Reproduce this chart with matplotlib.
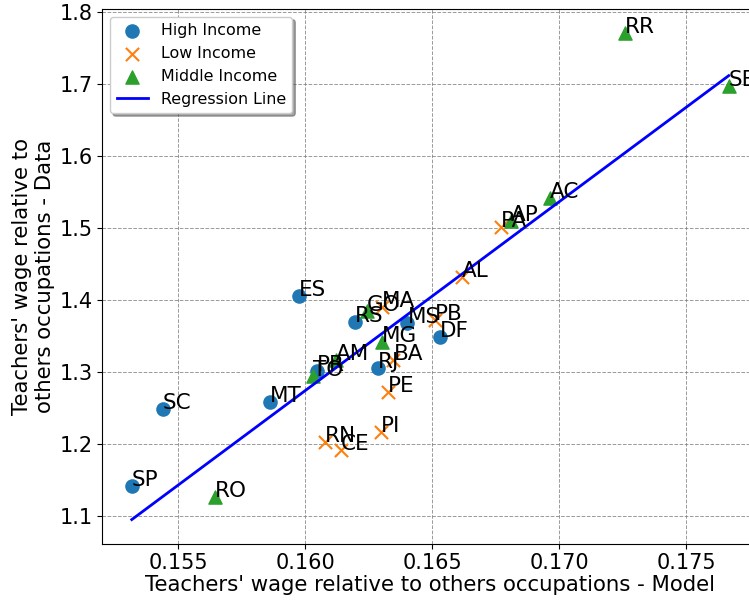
import numpy as np
import matplotlib
matplotlib.use("Agg")
import matplotlib.pyplot as plt

# High income states
high_labels = ["SP", "SC", "MT", "ES", "RS", "MS", "DF", "RJ", "PR"]
high_x = [0.15317, 0.15439, 0.15861, 0.15976, 0.16196, 0.16402, 0.16530, 0.16287, 0.16046]
high_y = [1.1413, 1.2480, 1.2585, 1.4055, 1.3698, 1.3684, 1.3480, 1.3050, 1.3012]

# Low income states
low_labels = ["PA", "AL", "MA", "BA", "PE", "PB", "PI", "RN", "CE"]
low_x = [0.16769, 0.16616, 0.16302, 0.16347, 0.16327, 0.16511, 0.16298, 0.16078, 0.16139]
low_y = [1.5019, 1.4315, 1.3902, 1.3165, 1.2724, 1.3721, 1.2168, 1.2029, 1.1914]

# Middle income states
mid_labels = ["RO", "RR", "SE", "AC", "AP", "GO", "MG", "AM", "TO"]
mid_x = [0.15644, 0.17260, 0.17667, 0.16963, 0.16809, 0.16244, 0.16301, 0.16121, 0.16032]
mid_y = [1.1264, 1.7713, 1.6980, 1.5414, 1.5102, 1.3850, 1.3420, 1.3165, 1.2943]

x_ticks = [0.155, 0.160, 0.165, 0.170, 0.175]
y_ticks = [1.1, 1.2, 1.3, 1.4, 1.5, 1.6, 1.7, 1.8]

fig = plt.figure(figsize=(7.49, 6.01), dpi=100)
W, H = 749, 601
left_px, right_px, top_px, bottom_px = 102.3, 757, 9, 543.7
ax = fig.add_axes([left_px / W, (H - bottom_px) / H,
                   (right_px - left_px) / W, (bottom_px - top_px) / H])

ax.scatter(high_x, high_y, s=90, marker="o", color="tab:blue", label="High Income", zorder=3)
ax.scatter(low_x, low_y, s=90, marker="x", color="tab:orange", label="Low Income", zorder=3)
ax.scatter(mid_x, mid_y, s=90, marker="^", color="tab:green", label="Middle Income", zorder=3)

all_x = np.array(high_x + low_x + mid_x)
all_y = np.array(high_y + low_y + mid_y)
slope, intercept = np.polyfit(all_x, all_y, 1)
xs = np.array([all_x.min(), all_x.max()])
ax.plot(xs, slope * xs + intercept, color="blue", linewidth=2, label="Regression Line", zorder=4)

for labels, xv, yv in [(high_labels, high_x, high_y), (low_labels, low_x, low_y), (mid_labels, mid_x, mid_y)]:
    for lab, xx, yy in zip(labels, xv, yv):
        ax.annotate(lab, (xx, yy), fontsize=15.5, zorder=5)

ax.set_xlim(0.15201, 0.155 + (right_px - 178.3) / 25400)
ax.set_ylim(1.1 - (bottom_px - 515.7) / 719.1, 1.1 + (515.7 - top_px) / 719.1)
ax.set_xticks(x_ticks)
ax.set_yticks(y_ticks)
ax.set_xticklabels([f"{v:.3f}" for v in x_ticks])
ax.set_yticklabels([f"{v:.1f}" for v in y_ticks])
ax.tick_params(labelsize=15)
ax.grid(True, linestyle="--", color="gray", linewidth=0.7, alpha=0.8)
ax.set_axisbelow(True)

ax.set_xlabel("Teachers' wage relative to others occupations - Model", fontsize=15.3, labelpad=1)
ax.set_ylabel("Teachers' wage relative to\nothers occupations - Data", fontsize=15.3, labelpad=3)

ax.legend(loc="upper left", fontsize=11.4, shadow=True)

fig.savefig("out.png", dpi=100)
